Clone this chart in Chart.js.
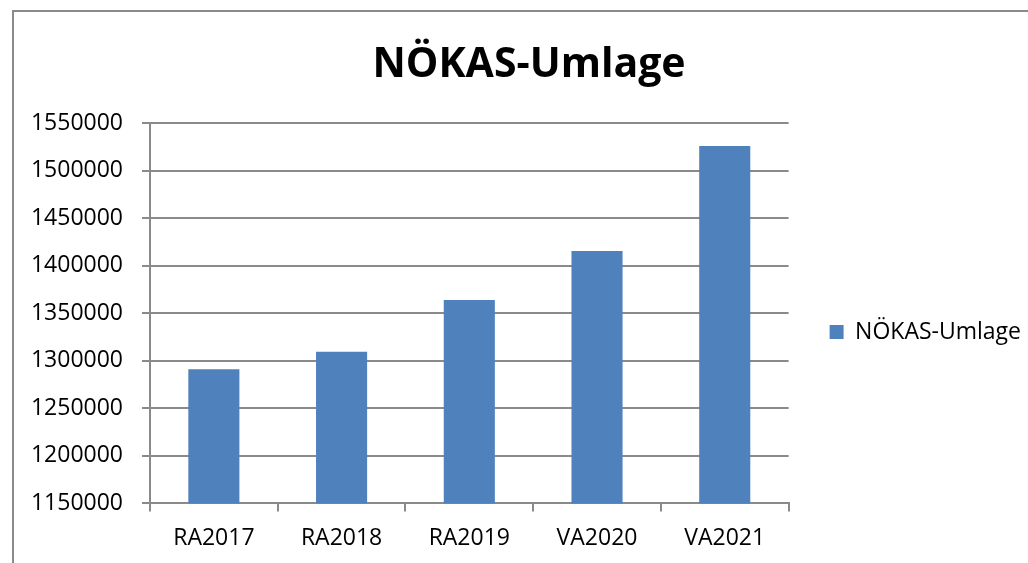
<!DOCTYPE html>
<html>
<head>
<meta charset="utf-8">
<script src="https://cdn.jsdelivr.net/npm/chart.js@4/dist/chart.umd.min.js"></script>
<style>
html,body{margin:0;padding:0;background:#fff;}
#wrap{width:1028px;height:563px;position:relative;}
</style>
</head>
<body>
<div id="wrap"><canvas id="c" width="1028" height="563"></canvas></div>
<script>
const categories = ['RA2017', 'RA2018', 'RA2019', 'VA2020', 'VA2021'];
const seriesName = 'NÖKAS-Umlage';
const seriesValues = [1291200, 1309500, 1364000, 1415600, 1526100];
const yMin = 1150000;
const yMax = 1550000;
const yStep = 50000;

const FONT = "'Open Sans', 'Noto Sans', sans-serif";
const GRID = '#8a8a8a';

const framePlugin = {
  id: 'frame',
  afterDraw(chart) {
    const ctx = chart.ctx;
    ctx.save();
    ctx.strokeStyle = GRID;
    ctx.lineWidth = 2;
    ctx.beginPath();
    ctx.moveTo(13, 563);
    ctx.lineTo(13, 11);
    ctx.lineTo(1028, 11);
    ctx.stroke();
    ctx.restore();
  }
};

function build() {
  new Chart(document.getElementById('c'), {
    type: 'bar',
    data: {
      labels: categories,
      datasets: [{
        label: seriesName,
        data: seriesValues,
        backgroundColor: '#4F81BD',
        borderWidth: 0,
        barPercentage: 0.4,
        categoryPercentage: 1.0
      }]
    },
    plugins: [framePlugin],
    options: {
      responsive: false,
      animation: false,
      layout: { padding: { left: 27, right: -3, top: 25, bottom: -2 } },
      plugins: {
        title: {
          display: true,
          text: seriesName,
          color: '#000',
          font: { family: FONT, size: 41, weight: 'bold' },
          padding: { top: 16, bottom: 33 }
        },
        legend: {
          display: true,
          position: 'right',
          title: {
            display: true,
            text: ' ',
            font: { family: FONT, size: 10 },
            padding: { top: 0, bottom: 62 }
          },
          labels: {
            color: '#000',
            font: { family: FONT, size: 23 },
            boxWidth: 14,
            boxHeight: 14,
            padding: 10
          }
        },
        tooltip: { enabled: false }
      },
      scales: {
        x: {
          grid: {
            display: true,
            offset: true,
            drawOnChartArea: false,
            drawTicks: true,
            tickLength: 8,
            color: GRID,
            lineWidth: 2
          },
          border: { display: true, color: GRID, width: 2 },
          ticks: {
            color: '#000',
            font: { family: FONT, size: 23 },
            padding: 13,
            maxRotation: 0
          }
        },
        y: {
          min: yMin,
          max: yMax,
          afterFit: (s) => { s.width = 123; },
          grid: {
            color: GRID,
            lineWidth: 2,
            tickLength: 8
          },
          border: { display: true, color: GRID, width: 2 },
          ticks: {
            stepSize: yStep,
            color: '#000',
            font: { family: FONT, size: 23 },
            padding: 19,
            callback: (v) => String(v)
          }
        },
        gap: {
          type: 'linear',
          position: 'right',
          display: false,
          afterFit: (s) => { s.width = 31; }
        }
      }
    }
  });
}

Promise.all([
  document.fonts.load("23px 'Open Sans'"),
  document.fonts.load("bold 41px 'Open Sans'")
]).then(build, build);
</script>
</body>
</html>
